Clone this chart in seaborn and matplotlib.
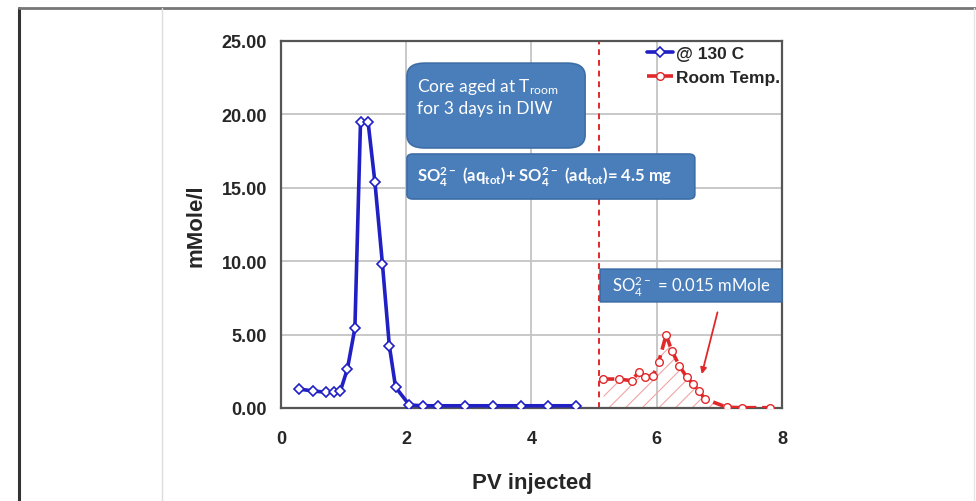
import matplotlib
matplotlib.use("Agg")
import matplotlib.pyplot as plt
import seaborn as sns
from matplotlib.patches import FancyBboxPatch
from matplotlib.lines import Line2D

# Sulfate effluent concentration vs pore volumes injected
pv_130 = [0.28, 0.51, 0.72, 0.84, 0.95, 1.06, 1.18, 1.27, 1.39, 1.50, 1.62,
          1.73, 1.83, 2.05, 2.27, 2.50, 2.94, 3.38, 3.83, 4.27, 4.71]
so4_130 = [1.29, 1.16, 1.07, 1.07, 1.18, 2.65, 5.43, 19.49, 19.49, 15.36, 9.80,
           4.24, 1.41, 0.20, 0.15, 0.15, 0.15, 0.15, 0.15, 0.15, 0.15]
pv_room = [5.15, 5.39, 5.60, 5.71, 5.81, 5.94, 6.03, 6.15, 6.24, 6.36, 6.48,
           6.58, 6.67, 6.77, 7.12, 7.36, 7.81]
so4_room = [1.97, 1.97, 1.86, 2.43, 2.09, 2.20, 3.11, 4.97, 3.90, 2.88, 2.09,
            1.63, 1.18, 0.61, 0.05, 0.02, 0.02]
switch_pv = 5.08
x_ticks = [0, 2, 4, 6, 8]
y_ticks = [0, 5, 10, 15, 20, 25]
series_labels = ["@ 130 C", "Room Temp."]

sns.set_style("white")
plt.rcParams["font.family"] = ["Liberation Sans", "DejaVu Sans"]
plt.rcParams["mathtext.default"] = "regular"
plt.rcParams["hatch.linewidth"] = 0.8

blue = "#2020c4"
red = "#e0282a"
box_face = "#4a7ebb"
box_edge = "#3d6da6"

fig = plt.figure(figsize=(9.76, 5.02), dpi=100)
ax = fig.add_axes([0.2879, 0.1853, 0.5133, 0.7316])

# hatched area under the room temperature peak
ax.fill_between(pv_room, so4_room, 0, facecolor="none", edgecolor="#f2a5a5",
                hatch="//", linewidth=0, zorder=1)

sns.lineplot(x=pv_130, y=so4_130, ax=ax, sort=False, color=blue, linewidth=2.6,
             marker="D", markersize=5, markerfacecolor="white",
             markeredgecolor=blue, markeredgewidth=1.2, label=series_labels[0],
             zorder=3)
sns.lineplot(x=pv_room, y=so4_room, ax=ax, sort=False, color=red, linewidth=2.6,
             linestyle=(0, (3, 1.6)), marker="o", markersize=5.5,
             markerfacecolor="white", markeredgecolor=red, markeredgewidth=1.0,
             label=series_labels[1], zorder=3)

ax.axvline(switch_pv, color=red, linestyle=(0, (3, 2.5)), linewidth=1.4, zorder=2)

ax.set_xlim(0, 8)
ax.set_ylim(0, 25)
ax.set_xticks(x_ticks)
ax.set_yticks(y_ticks)
ax.set_xticklabels([str(v) for v in x_ticks], fontsize=13, fontweight="bold")
ax.set_yticklabels([f"{v:.2f}" for v in y_ticks], fontsize=13, fontweight="bold")
ax.tick_params(axis="both", direction="out", length=4, width=1.0,
               color="#707070", pad=6)
ax.tick_params(axis="x", pad=12)
ax.grid(True, color="#c4c4c4", linewidth=1.3)
ax.set_axisbelow(True)
for s in ax.spines.values():
    s.set_color("#555555")
    s.set_linewidth(1.6)

ax.set_xlabel("PV injected", fontsize=16, fontweight="bold", labelpad=18)
ax.set_ylabel("mMole/l", fontsize=16, fontweight="bold", labelpad=11)

leg = ax.legend(loc="upper left", bbox_to_anchor=(0.71, 1.015), frameon=False,
                prop={"weight": "bold", "size": 12.5}, handlelength=1.5,
                handletextpad=0.15, labelspacing=0.5, borderaxespad=0.2)

# annotation boxes
def add_box(x0, y0, x1, y1, rounding):
    patch = FancyBboxPatch((x0, y0), x1 - x0, y1 - y0,
                           boxstyle=f"round,pad=0,rounding_size={rounding}",
                           transform=ax.transAxes, facecolor=box_face,
                           edgecolor=box_edge, linewidth=1.2, zorder=4,
                           clip_on=False)
    ax.add_patch(patch)

add_box(0.2515, 0.708, 0.607, 0.939, 0.035)
ax.text(0.272, 0.850, "Core aged at T$_{room}$\nfor 3 days in DIW",
        transform=ax.transAxes, family="Lato", fontsize=12.5, color="white",
        va="center", ha="left", linespacing=1.3, zorder=5)

add_box(0.2515, 0.569, 0.826, 0.6915, 0.012)
ax.text(0.272, 0.630,
        "SO$_4^{2-}$ (aq$_{tot}$)+ SO$_4^{2-}$ (ad$_{tot}$)= 4.5 mg",
        transform=ax.transAxes, family="Lato", fontsize=12, color="white",
        fontweight="bold", va="center", ha="left", zorder=5)

add_box(0.637, 0.289, 1.0, 0.378, 0.001)
ax.text(0.66, 0.333, "SO$_4^{2-}$ = 0.015 mMole", transform=ax.transAxes,
        family="Lato", fontsize=12, color="white", va="center", ha="left",
        zorder=5)

ax.annotate("", xy=(6.72, 2.31), xytext=(6.97, 6.51),
            arrowprops=dict(arrowstyle="-|>", color=red, lw=1.3,
                            mutation_scale=9, shrinkA=0, shrinkB=0),
            zorder=5)

# page frame around the chart
fig.add_artist(Line2D([0.0195, 0.0195], [0.0, 0.982], color="#333333",
                      linewidth=2.2, transform=fig.transFigure))
fig.add_artist(Line2D([0.0195, 1.0], [0.982, 0.982], color="#777777",
                      linewidth=2.0, transform=fig.transFigure))
fig.add_artist(Line2D([0.166, 0.166], [0.0, 0.982], color="#dddddd",
                      linewidth=1.0, transform=fig.transFigure))
fig.add_artist(Line2D([0.998, 0.998], [0.0, 0.982], color="#e6e6e6",
                      linewidth=1.0, transform=fig.transFigure))

fig.savefig("out.png", dpi=100)
